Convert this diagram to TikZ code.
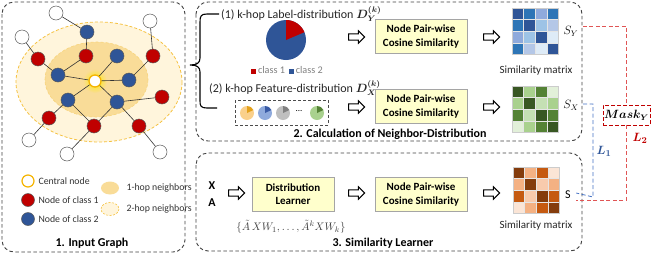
\documentclass[tikz,border=0pt]{standalone}
\usepackage{amsmath}
\usepackage{fontspec}
\setmainfont{Carlito}
\usetikzlibrary{shapes.arrows,shapes.geometric}
\newcommand\myfs[2]{\fontsize{#1}{#2}\selectfont}
\definecolor{panelc}{HTML}{404040}
\definecolor{boxfill}{HTML}{FFFFCC}
\definecolor{boxdraw}{HTML}{A5A5A5}
\definecolor{cred}{HTML}{C00000}
\definecolor{cblue}{HTML}{2F5597}
\definecolor{hopout}{HTML}{FFF5DC}
\definecolor{hopin}{HTML}{F9DC98}
\definecolor{hopline}{HTML}{F5C242}
\definecolor{ctrorange}{HTML}{F5B400}
% blues
\definecolor{bA}{HTML}{2F5597}\definecolor{bB}{HTML}{2E75B6}\definecolor{bC}{HTML}{8FAADC}
\definecolor{bD}{HTML}{9DC3E6}\definecolor{bE}{HTML}{B4C7E7}\definecolor{bF}{HTML}{DEEBF7}
% greens
\definecolor{gA}{HTML}{385723}\definecolor{gB}{HTML}{A9D18E}\definecolor{gC}{HTML}{548235}
\definecolor{gD}{HTML}{C5E0B4}\definecolor{gE}{HTML}{E2F0D9}
% browns
\definecolor{oA}{HTML}{843C0C}\definecolor{oB}{HTML}{F4B183}\definecolor{oC}{HTML}{C55A11}
\definecolor{oD}{HTML}{F8CBAD}\definecolor{oE}{HTML}{FBE5D6}
% pies
\definecolor{pOl}{HTML}{FAD08B}\definecolor{pOd}{HTML}{E3A11B}
\definecolor{pBl}{HTML}{8FAADC}\definecolor{pBd}{HTML}{3A5BA5}
\definecolor{pGl}{HTML}{BFBFBF}\definecolor{pGd}{HTML}{808080}
\definecolor{pVl}{HTML}{A9D18E}\definecolor{pVd}{HTML}{548235}
\definecolor{lossred}{HTML}{E05555}
\definecolor{lossblue}{HTML}{4472C4}
\definecolor{formgray}{HTML}{404040}

\newcommand\drawmat[3]{%
  \foreach \cc [count=\n from 0] in {#3} {%
    \pgfmathtruncatemacro\mcol{mod(\n,4)}%
    \pgfmathtruncatemacro\mrow{div(\n,4)}%
    \fill[\cc, draw=white!80!gray, line width=0.4pt] ({#1+\mcol*11.6},{#2+\mrow*11.6}) rectangle ++(11.6,11.6);
  }%
  \draw[gray!40, line width=0.4pt] (#1,#2) rectangle ++(46.4,46.4);
}
\newcommand\smallpie[4]{%
  \fill[#3] (#1,#2) circle (7);
  \fill[#4] (#1,#2) -- ++(-90:7) arc[start angle=-90, end angle=-25, radius=7] -- cycle;
}

\begin{document}
\begin{tikzpicture}[x=1pt,y=-1pt,
  panel/.style={draw=panelc, dash pattern=on 3.5pt off 2.5pt, line width=0.9pt, rounded corners=12pt},
  simbox/.style={draw=boxdraw, fill=boxfill, line width=0.8pt, align=center, font=\myfs{11}{13.5}\bfseries, minimum width=92pt, minimum height=34pt, inner sep=1pt},
  harrow/.style={single arrow, draw=black, fill=white, line width=1.1pt, minimum height=16pt, single arrow head extend=3pt, inner sep=2.6pt},
  gnode/.style={circle, minimum size=14pt, inner sep=0pt, draw=black!65, line width=0.5pt},
  c1/.style={gnode, fill=cred},
  c2/.style={gnode, fill=cblue},
  c0/.style={gnode, fill=white},
  gedge/.style={draw=black!80, line width=0.6pt},
  legtext/.style={anchor=west, font=\myfs{9.8}{11}, text=black!80},
  paneltitle/.style={font=\myfs{12}{14}\bfseries},
  captext/.style={font=\myfs{11}{13}, text=black!85},
  distlabel/.style={anchor=west, font=\myfs{12}{14}, text=black!85, inner sep=1pt},
  reddash/.style={draw=lossred, line width=0.9pt, dash pattern=on 4pt off 2.5pt},
  bluedash/.style={draw=lossblue, line width=0.8pt, dash pattern=on 4pt off 2.5pt}
]
\useasboundingbox (0,0) rectangle (651,255);

% ---------------- panels
\draw[panel] (2,2) rectangle (185,252);
\draw[panel] (196,2) rectangle (582,141);
\draw[panel] (196,153) rectangle (582,251);

% ---------------- input graph
\fill[hopout] (99,82) ellipse [x radius=83, y radius=60];
\draw[hopline, line width=0.8pt, dash pattern=on 3pt off 2pt] (99,82) ellipse [x radius=83, y radius=60];
\fill[hopin] (96.5,79.5) ellipse [x radius=51.5, y radius=37.5];
\draw[hopline!70, line width=0.6pt, dash pattern=on 3pt off 2pt] (96.5,79.5) ellipse [x radius=51.5, y radius=37.5];
\shade[inner color=yellow!85!orange, outer color=hopin] (95,81) circle (12);

\node[gnode, fill=white, draw=ctrorange, line width=1.3pt, minimum size=12pt] (c) at (95,81) {};
\node[c2] (b1) at (87,32) {};
\node[c2] (b2) at (117,56) {};
\node[c2] (b3) at (58,75) {};
\node[c2] (b4) at (129,80) {};
\node[c2] (b5) at (68,100) {};
\node[c2] (b6) at (117,102) {};
\node[c1] (r1) at (38,59) {};
\node[c1] (r2) at (86,56) {};
\node[c1] (r3) at (153,56) {};
\node[c1] (r4) at (162,97) {};
\node[c1] (r5) at (49,118) {};
\node[c1] (r6) at (94,126) {};
\node[c1] (r7) at (139,126) {};
\node[c0] (w1) at (56,13) {};
\node[c0] (w2) at (150,21) {};
\node[c0] (w3) at (22,37) {};
\node[c0] (w4) at (29,140) {};
\node[c0] (w5) at (67,154) {};
\node[c0] (w6) at (160,152) {};

\draw[gedge] (w1)--(b1) (b1)--(r2) (r2)--(b3) (b3)--(c) (b2)--(c) (b4)--(c) (b5)--(c) (b6)--(c)
  (w3)--(r1) (r1)--(b3) (w2)--(r3) (r3)--(b4) (b6)--(r4) (b5)--(r5) (r5)--(w4)
  (b5)--(r6) (b6)--(r6) (r6)--(w5) (b6)--(r7) (r7)--(w6);

% legend
\node[gnode, fill=white, draw=ctrorange, line width=1.2pt, minimum size=12pt] (lc) at (28,181) {};
\node[c1, minimum size=13pt] (lr) at (28,200) {};
\node[c2, minimum size=13pt] (lb) at (28,219) {};
\node[legtext] (lct) at (35,181) {Central node};
\node[legtext] (lrt) at (35,200) {Node of class 1};
\node[legtext] (lbt) at (35,219) {Node of class 2};
\fill[hopin] (110,188) ellipse [x radius=9, y radius=6.5];
\fill[hopout] (110,209) ellipse [x radius=9, y radius=6.5];
\draw[hopline, line width=0.6pt, dash pattern=on 2pt off 1.5pt] (110,209) ellipse [x radius=9, y radius=6.5];
\node[legtext] (l1t) at (123,188) {1-hop neighbors};
\node[legtext] (l2t) at (123,209) {2-hop neighbors};
\node[paneltitle] (t1) at (92,243) {1. Input Graph};

% ---------------- panel 2
\draw[line width=1.1pt] (219,14) -- (207,14) .. controls (201,14) and (200,16) .. (200,22) -- (200,58)
  .. controls (200,63) and (197,65) .. (190,65) .. controls (197,65) and (200,67) .. (200,72) -- (200,101)
  .. controls (200,106) and (201,108) .. (207,108) -- (217,108);

\node[distlabel] (lab1) at (220,14) {(1) k-hop Label-distribution $\boldsymbol{D_Y^{(k)}}$};
\fill[cblue] (286,40) circle (20);
\fill[cred] (286,40) -- ++(-90:20) arc[start angle=-90, end angle=-23, radius=20] -- cycle;
\node[anchor=west, font=\myfs{10.2}{11}, text=gray, inner sep=0pt] (pleg) at (251,70) {{\color{cred}\rule{4.5pt}{4.5pt}} class 1\hspace{4pt}{\color{cblue}\rule{4.5pt}{4.5pt}} class 2};

\node[distlabel] (lab2) at (208,88) {(2) k-hop Feature-distribution $\boldsymbol{D_X^{(k)}}$};
\draw[draw=black!70, line width=0.9pt, dash pattern=on 3pt off 2pt] (235,100) rectangle (328,125);
\smallpie{247}{113}{pOl}{pOd}
\smallpie{265}{113}{pBl}{pBd}
\smallpie{283}{113}{pGl}{pGd}
\node[font=\myfs{9}{10}] (dots) at (299,111) {...};
\smallpie{317}{113}{pVl}{pVd}

\node[harrow] (a1) at (355,37) {};
\node[simbox] (sim1) at (421,36.5) {Node Pair-wise\\Cosine Similarity};
\node[harrow] (a2) at (490,37) {};
\drawmat{512}{8}{bA,bB,bC,bB, bB,bA,bD,bE, bC,bD,bA,bF, bB,bE,bF,bA}
\node[font=\myfs{12}{14}] (sy) at (571,31) {$S_Y$};
\node[captext] (cap1) at (536,71) {Similarity matrix};

\node[harrow] (a3) at (355,107) {};
\node[simbox] (sim2) at (421,106.5) {Node Pair-wise\\Cosine Similarity};
\node[harrow] (a4) at (490,107) {};
\drawmat{512}{86}{gA,gB,gC,gE, gB,gA,gD,gB, gC,gD,gA,gC, gE,gB,gC,gA}
\node[font=\myfs{12}{14}] (sx) at (571,105) {$S_X$};
\node[paneltitle] (t2) at (390,134) {2. Calculation of Neighbor-Distribution};

% ---------------- panel 3
\node[font=\myfs{12}{14}\bfseries] (xx) at (212,186) {X};
\node[font=\myfs{12}{14}\bfseries] (aa) at (212,203) {A};
\node[harrow] (a5) at (235,193) {};
\node[simbox, minimum width=82pt] (dl) at (293,194) {Distribution\\Learner};
\node[font=\myfs{11.3}{13}, text=formgray, inner sep=0pt] (form) at (291,227) {$\{\tilde{A}\,XW_1,\ldots,\tilde{A}^kXW_k\}$};
\node[harrow] (a6) at (355,193) {};
\node[simbox] (sim3) at (421,194.5) {Node Pair-wise\\Cosine Similarity};
\node[harrow] (a7) at (490,193) {};
\drawmat{513}{167}{oA,oB,oC,oE, oB,oA,oD,oB, oC,oD,oA,oC, oE,oB,oC,oA}
\node[font=\myfs{12}{14}] (s) at (568,195) {S};
\node[captext] (cap2) at (536,226) {Similarity matrix};
\node[paneltitle] (t3) at (383,243) {3. Similarity Learner};

% ---------------- losses
\node[draw=cred, line width=0.9pt, dash pattern=on 4pt off 2pt, minimum width=47pt, minimum height=20pt, inner sep=1pt, font=\myfs{11.5}{13}] (mask) at (626.5,115) {$\boldsymbol{Mask_Y}$};
\draw[reddash] ([xshift=1pt,yshift=5pt]sy.east) -| (mask.north);
\draw[reddash] (mask.south) |- ([xshift=2pt,yshift=-5pt]s.east);
\coordinate (bturn) at (593,105);
\draw[bluedash] ([xshift=1pt,yshift=1pt]sx.east) -| ([yshift=-2pt]bturn |- s.east) -- ([xshift=2pt,yshift=2pt]s.east);
\node[font=\myfs{13}{15}, text=cblue] (l1) at (604,151) {$\boldsymbol{L_1}$};
\node[font=\myfs{13}{15}, text=cred] (l2) at (640,138) {$\boldsymbol{L_2}$};
\end{tikzpicture}
\end{document}
